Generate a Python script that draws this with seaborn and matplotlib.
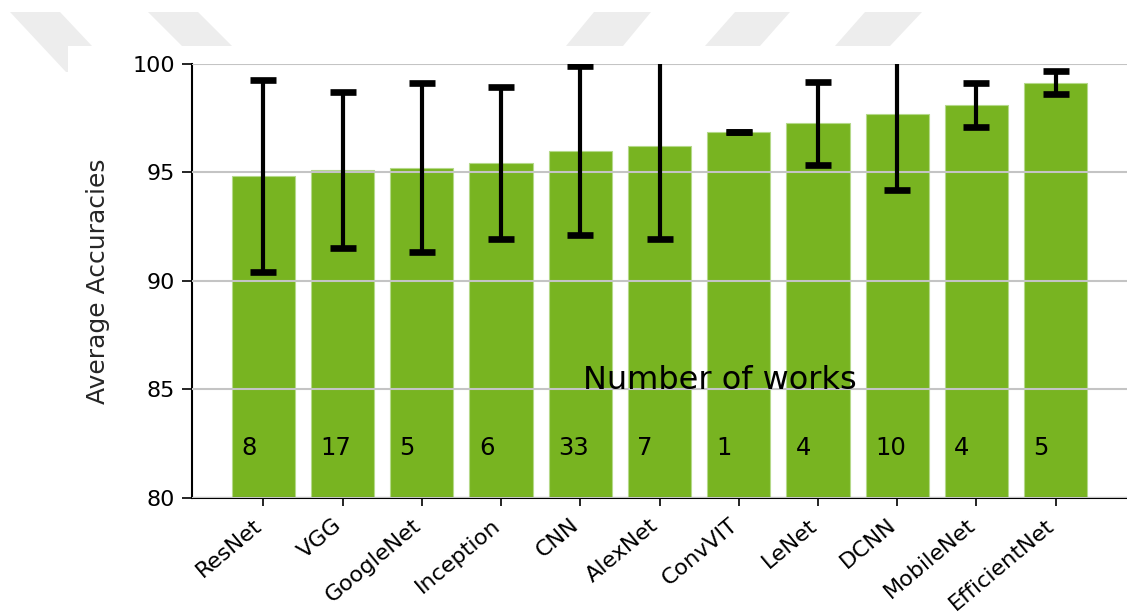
import matplotlib
matplotlib.use("Agg")
import matplotlib.pyplot as plt
from matplotlib.patches import Polygon, Rectangle
import seaborn as sns
import numpy as np

models = ["ResNet", "VGG", "GoogleNet", "Inception", "CNN", "AlexNet",
          "ConvVIT", "LeNet", "DCNN", "MobileNet", "EfficientNet"]
avg_acc = [94.84, 95.10, 95.22, 95.44, 96.01, 96.24, 96.85, 97.27, 97.68, 98.10, 99.14]
acc_err = [4.42, 3.60, 3.90, 3.50, 3.90, 4.32, 0.00, 1.92, 3.49, 1.01, 0.53]
num_works = ["8", "17", "5", "6", "33", "7", "1", "4", "10", "4", "5"]

sns.set_theme(style="white")
plt.rcParams["font.family"] = ["DejaVu Sans"]

W, H = 1127, 613
fig = plt.figure(figsize=(W / 100, H / 100), dpi=100)

# faint watermark band at the top (page background)
wm = "#ededed"
shapes = [
    [(10, 12), (60, 12), (92, 46), (68, 46), (68, 72), (66, 72)],
    [(148, 12), (198, 12), (232, 46), (182, 46)],
    [(594, 12), (651, 12), (623, 46), (566, 46)],
    [(735, 12), (790, 12), (760, 46), (705, 46)],
    [(865, 12), (922, 12), (890, 46), (835, 46)],
]
for s in shapes:
    pts = [(x / W, 1 - y / H) for x, y in s]
    fig.patches.append(Polygon(pts, closed=True, transform=fig.transFigure,
                               facecolor=wm, edgecolor="none", zorder=-2))
fig.patches.append(Rectangle((68 / W, 0), 1, 1 - 46 / H, transform=fig.transFigure,
                             facecolor="white", edgecolor="none", zorder=-1))

ax = fig.add_axes([192 / W, 1 - 498 / H, 1 - 192 / W, (498 - 64) / H])
ax.set_facecolor("none")

sns.barplot(x=models, y=avg_acc, color="#78b421", saturation=1, width=0.8,
            edgecolor="#b5d98a", linewidth=0.8, ax=ax, zorder=1)

ax.yaxis.grid(True, color="#c4c4c4", linewidth=1.5, zorder=2)
ax.set_axisbelow(False)

xs = np.arange(len(models))
ax.errorbar(xs, avg_acc, yerr=acc_err, fmt="none", ecolor="black",
            elinewidth=3, capsize=9.4, capthick=4.8, zorder=3)

for i, n in enumerate(num_works):
    ax.text(i - 0.28, 82.0, n, ha="left", va="baseline", fontsize=17.5,
            color="black", zorder=4)
ax.text(4.03, 85.0, "Number of works", ha="left", va="baseline",
        fontsize=23, color="black", zorder=4)

ax.set_ylim(80, 100)
ax.set_xlim(-0.9, 10.9)
ax.set_yticks([80, 85, 90, 95, 100])
ax.set_ylabel("Average Accuracies", fontsize=18, labelpad=16)
ax.set_xlabel("")

for side in ["top", "right"]:
    ax.spines[side].set_visible(False)
for side in ["left", "bottom"]:
    ax.spines[side].set_color("black")
    ax.spines[side].set_linewidth(1.5)

ax.tick_params(axis="y", which="both", left=True, length=7, width=1.2,
               labelsize=16, color="black", labelcolor="black", pad=5)
ax.tick_params(axis="x", which="both", bottom=True, length=6, width=1.2,
               labelsize=16, color="black", labelcolor="black", pad=15)
plt.setp(ax.get_xticklabels(), rotation=40, ha="right", va="baseline",
         rotation_mode="anchor")

fig.savefig("out.png", dpi=100)
